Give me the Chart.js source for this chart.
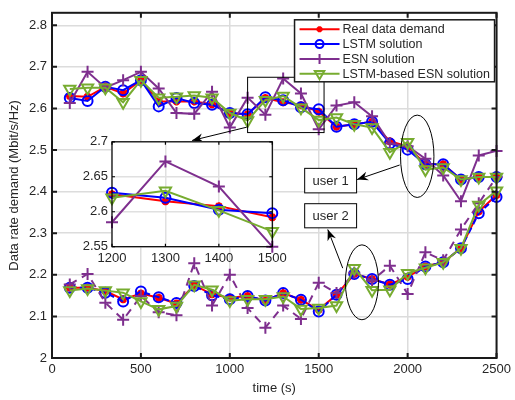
<!DOCTYPE html>
<html>
<head>
<meta charset="utf-8">
<script src="https://cdn.jsdelivr.net/npm/chart.js@4.4.0/dist/chart.umd.min.js"></script>
<style>
  body { margin: 0; background: #fff; }
  #wrap { position: relative; width: 515px; height: 400px; }
  #main { position: absolute; left: 0; top: 0; }
  #inset { position: absolute; left: 70px; top: 130px; }
</style>
</head>
<body>
<div id="wrap">
  <canvas id="main" width="515" height="400"></canvas>
  <canvas id="inset" width="225" height="140"></canvas>
</div>
<script>
// Time axis (s) and tick labels
const times = [100, 200, 300, 400, 500, 600, 700, 800, 900, 1000, 1100, 1200, 1300,
               1400, 1500, 1600, 1700, 1800, 1900, 2000, 2100, 2200, 2300, 2400, 2500];
const xTicks = [0, 500, 1000, 1500, 2000, 2500];
const yTicks = [2, 2.1, 2.2, 2.3, 2.4, 2.5, 2.6, 2.7, 2.8];
const insetXTicks = [1200, 1300, 1400, 1500];
const insetYTicks = [2.55, 2.6, 2.65, 2.7];

// user 1 demand (Mbit/s/Hz)
const realUser1   = [2.630, 2.628, 2.652, 2.636, 2.668, 2.617, 2.617, 2.617, 2.610, 2.589, 2.586, 2.625, 2.615,
                     2.608, 2.592, 2.556, 2.562, 2.568, 2.521, 2.509, 2.466, 2.466, 2.429, 2.435, 2.435];
const lstmUser1   = [2.625, 2.618, 2.652, 2.644, 2.668, 2.605, 2.625, 2.613, 2.609, 2.589, 2.586, 2.627, 2.620,
                     2.603, 2.598, 2.556, 2.562, 2.568, 2.516, 2.501, 2.466, 2.466, 2.429, 2.435, 2.435];
const esnUser1    = [2.613, 2.688, 2.650, 2.668, 2.688, 2.648, 2.589, 2.587, 2.640, 2.554, 2.626, 2.585, 2.672,
                     2.636, 2.550, 2.607, 2.615, 2.581, 2.516, 2.509, 2.479, 2.439, 2.377, 2.487, 2.498];
const hybridUser1 = [2.647, 2.650, 2.650, 2.615, 2.668, 2.626, 2.628, 2.631, 2.626, 2.589, 2.571, 2.620, 2.630,
                     2.602, 2.572, 2.578, 2.562, 2.554, 2.495, 2.519, 2.453, 2.458, 2.429, 2.435, 2.435];

// user 2 demand (Mbit/s/Hz)
const realUser2   = [2.169, 2.169, 2.161, 2.141, 2.155, 2.145, 2.131, 2.175, 2.153, 2.145, 2.149, 2.138, 2.156,
                     2.140, 2.116, 2.152, 2.202, 2.190, 2.177, 2.195, 2.220, 2.230, 2.264, 2.352, 2.392];
const lstmUser2   = [2.169, 2.169, 2.157, 2.136, 2.160, 2.146, 2.132, 2.173, 2.151, 2.141, 2.149, 2.138, 2.156,
                     2.140, 2.112, 2.152, 2.202, 2.190, 2.176, 2.190, 2.220, 2.230, 2.264, 2.348, 2.387];
const esnUser2    = [2.177, 2.202, 2.133, 2.092, 2.149, 2.110, 2.103, 2.228, 2.126, 2.200, 2.120, 2.073, 2.126,
                     2.094, 2.181, 2.156, 2.205, 2.186, 2.222, 2.154, 2.254, 2.235, 2.309, 2.372, 2.435];
const hybridUser2 = [2.162, 2.167, 2.162, 2.157, 2.136, 2.117, 2.125, 2.176, 2.164, 2.138, 2.141, 2.141, 2.148,
                     2.118, 2.120, 2.126, 2.216, 2.163, 2.164, 2.204, 2.217, 2.230, 2.264, 2.368, 2.402];

const FONT = "'Liberation Sans', Arial, Helvetica, sans-serif";
const TEXT = '#262626';
Chart.defaults.font.family = FONT;
Chart.defaults.font.size = 13;
Chart.defaults.color = TEXT;

const styles = [
  { name: 'Real data demand', color: '#ff0000', pointStyle: 'star', radius: 4, width: 2.5, fill: true, order: 4 },
  { name: 'LSTM solution', color: '#0000ff', pointStyle: 'circle', radius: 5, width: 2, order: 3 },
  { name: 'ESN solution', color: '#7e2f8e', pointStyle: 'cross', radius: 6, width: 2, order: 2 },
  { name: 'LSTM-based ESN solution', color: '#77ac30', pointStyle: 'triangle', radius: 6.5, width: 2, rotation: 180, order: 1 }
];
const user2Dash = [[], [6, 4], [8, 6], []];

function pairs(xs, ys) {
  return xs.map((x, i) => ({ x: x, y: ys[i] }));
}

function makeDataset(style, xs, ys, dash) {
  return {
    label: style.name,
    data: pairs(xs, ys),
    borderColor: style.color,
    backgroundColor: style.color,
    borderWidth: 2,
    borderDash: dash || [],
    pointStyle: style.pointStyle,
    pointRadius: style.radius,
    pointRotation: style.rotation || 0,
    pointBorderWidth: style.width,
    pointBorderColor: style.color,
    pointBackgroundColor: style.fill ? style.color : 'rgba(0,0,0,0)',
    tension: 0,
    clip: false,
    order: style.order
  };
}

// box with inward ticks on all four sides
function framePlugin(o) {
  return {
    id: 'frame',
    afterDraw(chart) {
      const { ctx, chartArea: a, scales } = chart;
      ctx.save();
      ctx.strokeStyle = o.color;
      ctx.lineWidth = o.lineWidth;
      ctx.beginPath();
      o.xTicks.forEach(v => {
        const x = scales.x.getPixelForValue(v);
        ctx.moveTo(x, a.bottom); ctx.lineTo(x, a.bottom - o.tickLen);
        ctx.moveTo(x, a.top); ctx.lineTo(x, a.top + o.tickLen);
      });
      o.yTicks.forEach(v => {
        const y = scales.y.getPixelForValue(v);
        ctx.moveTo(a.left, y); ctx.lineTo(a.left + o.tickLen, y);
        ctx.moveTo(a.right, y); ctx.lineTo(a.right - o.tickLen, y);
      });
      ctx.stroke();
      ctx.strokeRect(a.left, a.top, a.right - a.left, a.bottom - a.top);
      ctx.restore();
    }
  };
}

// annotation shapes, placed in data units
const zoomBox = { x0: 1100, x1: 1530, y0: 2.542, y1: 2.675 };
const zoomArrow = { x0: 1095, y0: 2.555, x1: 788, y1: 2.523 };
const ellipses = [
  { x0: 1960, x1: 2148, y0: 2.386, y1: 2.584 },
  { x0: 1650, x1: 1836, y0: 2.092, y1: 2.272 }
];
const userBoxes = [
  { text: 'user 1', x0: 1421, x1: 1713, y0: 2.397, y1: 2.456 },
  { text: 'user 2', x0: 1421, x1: 1713, y0: 2.313, y1: 2.371 }
];
const userArrows = [
  { x0: 1955, y0: 2.464, x1: 1716, y1: 2.429 },
  { x0: 1635, y0: 2.216, x1: 1551, y1: 2.309 }
];

function arrow(ctx, x0, y0, x1, y1) {
  ctx.beginPath();
  ctx.moveTo(x0, y0);
  ctx.lineTo(x1, y1);
  ctx.stroke();
  const ang = Math.atan2(y1 - y0, x1 - x0);
  ctx.save();
  ctx.translate(x1, y1);
  ctx.rotate(ang);
  ctx.beginPath();
  ctx.moveTo(0, 0);
  ctx.lineTo(-11, -4.5);
  ctx.lineTo(-7.5, 0);
  ctx.lineTo(-11, 4.5);
  ctx.closePath();
  ctx.fill();
  ctx.restore();
}

const annotations = {
  id: 'annotations',
  afterDraw(chart) {
    const { ctx, chartArea: a, scales } = chart;
    const px = v => scales.x.getPixelForValue(v);
    const py = v => scales.y.getPixelForValue(v);
    ctx.save();
    ctx.strokeStyle = '#000';
    ctx.fillStyle = '#000';
    ctx.lineWidth = 1;

    ctx.strokeRect(px(zoomBox.x0), py(zoomBox.y1), px(zoomBox.x1) - px(zoomBox.x0), py(zoomBox.y0) - py(zoomBox.y1));
    arrow(ctx, px(zoomArrow.x0), py(zoomArrow.y0), px(zoomArrow.x1), py(zoomArrow.y1));

    ellipses.forEach(e => {
      ctx.beginPath();
      ctx.ellipse((px(e.x0) + px(e.x1)) / 2, (py(e.y0) + py(e.y1)) / 2,
                  (px(e.x1) - px(e.x0)) / 2, (py(e.y0) - py(e.y1)) / 2, 0, 0, Math.PI * 2);
      ctx.stroke();
    });
    userArrows.forEach(r => arrow(ctx, px(r.x0), py(r.y0), px(r.x1), py(r.y1)));

    ctx.font = '13px ' + FONT;
    ctx.textAlign = 'center';
    ctx.textBaseline = 'middle';
    userBoxes.forEach(b => {
      const x0 = px(b.x0), x1 = px(b.x1), y0 = py(b.y1), y1 = py(b.y0);
      ctx.fillStyle = '#fff';
      ctx.fillRect(x0, y0, x1 - x0, y1 - y0);
      ctx.strokeRect(x0, y0, x1 - x0, y1 - y0);
      ctx.fillStyle = TEXT;
      ctx.fillText(b.text, (x0 + x1) / 2, (y0 + y1) / 2 + 0.5);
    });

    // legend box in the top right corner
    const lx0 = a.right - 202, ly0 = a.top + 7, lw = 200, lh = 62;
    ctx.fillStyle = '#fff';
    ctx.fillRect(lx0, ly0, lw, lh);
    ctx.strokeStyle = '#1a1a1a';
    ctx.lineWidth = 1.5;
    ctx.strokeRect(lx0, ly0, lw, lh);
    ctx.textAlign = 'left';
    ctx.font = '12.5px ' + FONT;
    styles.forEach((s, i) => {
      const y = ly0 + 9.5 + i * 14.8;
      ctx.strokeStyle = s.color;
      ctx.lineWidth = 2;
      ctx.beginPath();
      ctx.moveTo(lx0 + 5, y);
      ctx.lineTo(lx0 + 45, y);
      ctx.stroke();
      ctx.fillStyle = s.fill ? s.color : 'rgba(0,0,0,0)';
      ctx.lineWidth = s.width;
      Chart.helpers.drawPoint(ctx, { pointStyle: s.pointStyle, radius: s.radius - 1,
                                     rotation: s.rotation || 0, borderWidth: s.width }, lx0 + 25, y);
      ctx.fillStyle = TEXT;
      ctx.fillText(s.name, lx0 + 48, y + 0.5);
    });
    ctx.restore();
  }
};

const whiteCanvas = {
  id: 'whiteCanvas',
  beforeDraw(chart) {
    const ctx = chart.ctx;
    ctx.save();
    ctx.fillStyle = '#fff';
    ctx.fillRect(0, 0, chart.width, chart.height);
    ctx.restore();
  }
};

const whiteArea = {
  id: 'whiteArea',
  beforeDraw(chart) {
    const { ctx, chartArea: a } = chart;
    ctx.save();
    ctx.fillStyle = '#fff';
    ctx.fillRect(a.left, a.top, a.right - a.left, a.bottom - a.top);
    ctx.restore();
  }
};

const user1 = [realUser1, lstmUser1, esnUser1, hybridUser1];
const user2 = [realUser2, lstmUser2, esnUser2, hybridUser2];

const mainDatasets = [];
styles.forEach((s, i) => {
  mainDatasets.push(makeDataset(s, times, user1[i]));
  mainDatasets.push(makeDataset(s, times, user2[i], user2Dash[i]));
});

new Chart(document.getElementById('main'), {
  type: 'line',
  data: { datasets: mainDatasets },
  options: {
    responsive: false,
    animation: false,
    layout: { padding: { left: 0, top: 7, right: 15, bottom: 0 } },
    plugins: { legend: { display: false }, tooltip: { enabled: false } },
    scales: {
      x: {
        type: 'linear', min: 0, max: 2500,
        afterBuildTicks: s => { s.ticks = xTicks.map(v => ({ value: v })); },
        afterFit: s => { s.height = 42; },
        grid: { color: '#dcdcdc', lineWidth: 1.5, drawTicks: false },
        border: { display: false },
        ticks: { padding: 4, maxRotation: 0, autoSkip: false, callback: v => String(v) },
        title: { display: true, text: 'time (s)', padding: { top: 0, bottom: 4 } }
      },
      y: {
        type: 'linear', min: 2, max: 2.83,
        afterBuildTicks: s => { s.ticks = yTicks.map(v => ({ value: v })); },
        afterFit: s => { s.width = 52; },
        grid: { color: '#dcdcdc', lineWidth: 1.5, drawTicks: false },
        border: { display: false },
        ticks: { padding: 5, autoSkip: false, callback: v => String(+v.toFixed(2)) },
        title: { display: true, text: 'Data rate demand (Mbit/s/Hz)', padding: { top: 7, bottom: 0 } }
      }
    }
  },
  plugins: [whiteCanvas, framePlugin({ color: '#1a1a1a', lineWidth: 2, tickLen: 5, xTicks: xTicks, yTicks: yTicks }), annotations]
});

// zoomed view of user 1 between 1200 s and 1500 s
const insetIdx = times.map((t, i) => i).filter(i => times[i] >= insetXTicks[0] && times[i] <= insetXTicks[insetXTicks.length - 1]);
const insetTimes = insetIdx.map(i => times[i]);
const insetDatasets = styles.map((s, k) => makeDataset(s, insetTimes, insetIdx.map(i => user1[k][i])));

new Chart(document.getElementById('inset'), {
  type: 'line',
  data: { datasets: insetDatasets },
  options: {
    responsive: false,
    animation: false,
    layout: { padding: { left: 0, top: 9.3, right: 22.7, bottom: 0 } },
    plugins: { legend: { display: false }, tooltip: { enabled: false } },
    scales: {
      x: {
        type: 'linear', min: 1200, max: 1500,
        afterBuildTicks: s => { s.ticks = insetXTicks.map(v => ({ value: v })); },
        afterFit: s => { s.height = 23.3; },
        grid: { color: '#e0e0e0', lineWidth: 1.5, drawTicks: false },
        border: { display: false },
        ticks: { padding: 4, maxRotation: 0, autoSkip: false, callback: v => String(v) }
      },
      y: {
        type: 'linear', min: 2.55, max: 2.7,
        afterBuildTicks: s => { s.ticks = insetYTicks.map(v => ({ value: v })); },
        afterFit: s => { s.width = 42; },
        grid: { color: '#e0e0e0', lineWidth: 1.5, drawTicks: false },
        border: { display: false },
        ticks: { padding: 4, autoSkip: false, callback: v => String(+v.toFixed(2)) }
      }
    }
  },
  plugins: [whiteArea, framePlugin({ color: '#000', lineWidth: 1.2, tickLen: 3, xTicks: insetXTicks, yTicks: insetYTicks })]
});
</script>
</body>
</html>
